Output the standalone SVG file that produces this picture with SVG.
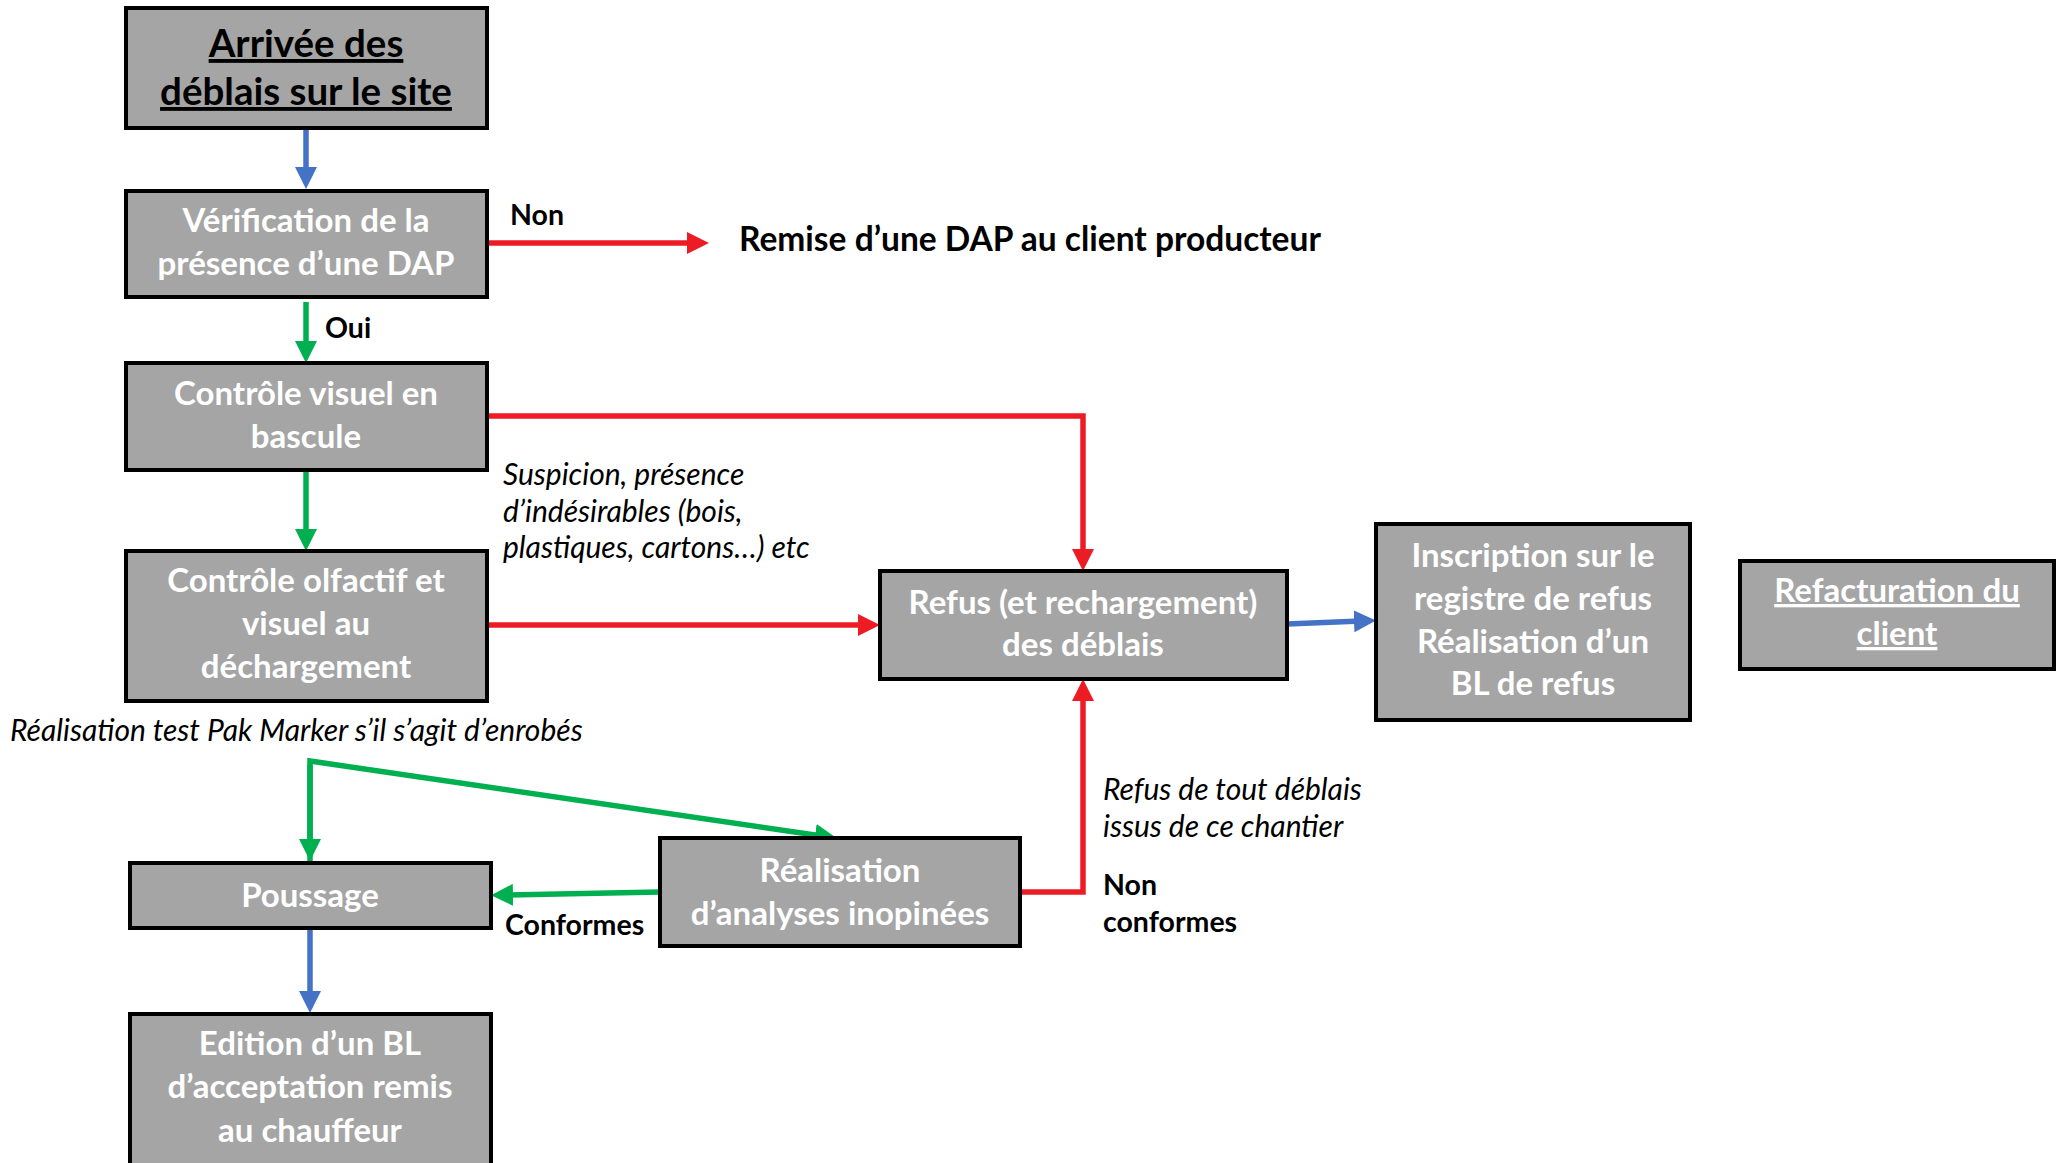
<svg xmlns="http://www.w3.org/2000/svg" width="2060" height="1163" viewBox="0 0 2060 1163">
<defs>
<style>
.box{fill:#a5a5a5;stroke:#000;stroke-width:4}
.bt{font-family:Lato,"Liberation Sans",sans-serif;font-weight:bold;font-size:33px;fill:#fff;text-anchor:middle}
.bk{font-family:Lato,"Liberation Sans",sans-serif;font-weight:bold;font-size:28.5px;fill:#000}
.it{font-family:Lato,"Liberation Sans",sans-serif;font-style:italic;font-size:30px;fill:#000}
.r{stroke:#ed1c24;stroke-width:5.5;fill:none}
.g{stroke:#00b050;stroke-width:5.5;fill:none}
.b{stroke:#4472c4;stroke-width:5.5;fill:none}
</style>
<marker id="ar" markerUnits="userSpaceOnUse" markerWidth="22" markerHeight="22" refX="7" refY="11" orient="auto"><path d="M0,0 L22,11 L0,22 z" fill="#ed1c24"/></marker>
<marker id="ag" markerUnits="userSpaceOnUse" markerWidth="22" markerHeight="22" refX="7" refY="11" orient="auto"><path d="M0,0 L22,11 L0,22 z" fill="#00b050"/></marker>
<marker id="ab" markerUnits="userSpaceOnUse" markerWidth="22" markerHeight="22" refX="7" refY="11" orient="auto"><path d="M0,0 L22,11 L0,22 z" fill="#4472c4"/></marker>
</defs>
<rect width="2060" height="1163" fill="#fff"/>
<g id="connectors">
<path class="b" d="M306,128 L306,174" marker-end="url(#ab)"/>
<path class="r" d="M487,243 L694,243" marker-end="url(#ar)"/>
<path class="g" d="M306,302 L306,348" marker-end="url(#ag)"/>
<path class="r" d="M487,416 L1083,416 L1083,556" marker-end="url(#ar)"/>
<path class="g" d="M306,470 L306,536" marker-end="url(#ag)"/>
<path class="r" d="M487,625 L865,625" marker-end="url(#ar)"/>
<path class="b" d="M1287,624 L1361,621" marker-end="url(#ab)"/>
<path class="g" d="M310,861 L310,761 L822,836" marker-end="url(#ag)"/>
<path class="g" d="M310,765 L310,846" marker-end="url(#ag)"/>
<path class="g" d="M660,892 L506,895" marker-end="url(#ag)"/>
<path class="r" d="M1020,892 L1083,892 L1083,694" marker-end="url(#ar)"/>
<path class="b" d="M310,928 L310,998" marker-end="url(#ab)"/>
</g>
<g id="n1"><rect class="box" x="126" y="8" width="361" height="120"/>
<text class="bt" x="306" y="57" style="fill:#000;font-size:38.5px;text-decoration:underline">Arrivée des</text>
<text class="bt" x="306" y="105" style="fill:#000;font-size:38.5px;text-decoration:underline">déblais sur le site</text></g>
<g id="n2"><rect class="box" x="126" y="191" width="361" height="106"/>
<text class="bt" x="306" y="232">Vérification de la</text>
<text class="bt" x="306" y="275">présence d’une DAP</text></g>
<g id="n3"><rect class="box" x="126" y="363" width="361" height="107"/>
<text class="bt" x="306" y="405">Contrôle visuel en</text>
<text class="bt" x="306" y="448">bascule</text></g>
<g id="n4"><rect class="box" x="126" y="551" width="361" height="150"/>
<text class="bt" x="306" y="592">Contrôle olfactif et</text>
<text class="bt" x="306" y="635">visuel au</text>
<text class="bt" x="306" y="678">déchargement</text></g>
<g id="n5"><rect class="box" x="880" y="571" width="407" height="108"/>
<text class="bt" x="1083" y="614">Refus (et rechargement)</text>
<text class="bt" x="1083" y="656">des déblais</text></g>
<g id="n6"><rect class="box" x="1376" y="524" width="314" height="196"/>
<text class="bt" x="1533" y="567">Inscription sur le</text>
<text class="bt" x="1533" y="610">registre de refus</text>
<text class="bt" x="1533" y="653">Réalisation d’un</text>
<text class="bt" x="1533" y="695">BL de refus</text></g>
<g id="n7"><rect class="box" x="1740" y="561" width="314" height="108"/>
<text class="bt" x="1897" y="602" style="text-decoration:underline">Refacturation du</text>
<text class="bt" x="1897" y="645" style="text-decoration:underline">client</text></g>
<g id="n8"><rect class="box" x="130" y="863" width="361" height="65"/>
<text class="bt" x="310" y="907">Poussage</text></g>
<g id="n9"><rect class="box" x="660" y="838" width="360" height="108"/>
<text class="bt" x="840" y="882">Réalisation</text>
<text class="bt" x="840" y="925">d’analyses inopinées</text></g>
<g id="n10"><rect class="box" x="130" y="1014" width="361" height="160"/>
<text class="bt" x="310" y="1055">Edition d’un BL</text>
<text class="bt" x="310" y="1098">d’acceptation remis</text>
<text class="bt" x="310" y="1142">au chauffeur</text></g>
<g id="labels">
<text class="bk" x="739" y="251" style="font-size:33.5px">Remise d’une DAP au client producteur</text>
<text class="bk" x="510" y="225">Non</text>
<text class="bk" x="325" y="338">Oui</text>
<text class="it" x="503" y="485">Suspicion, présence</text>
<text class="it" x="503" y="522">d’indésirables (bois,</text>
<text class="it" x="503" y="558">plastiques, cartons…) etc</text>
<text class="it" x="10" y="741">Réalisation test Pak Marker s’il s’agit d’enrobés</text>
<text class="it" x="1103" y="800">Refus de tout déblais</text>
<text class="it" x="1103" y="837">issus de ce chantier</text>
<text class="bk" x="505" y="935">Conformes</text>
<text class="bk" x="1103" y="895">Non</text>
<text class="bk" x="1103" y="932">conformes</text>
</g>
</svg>
